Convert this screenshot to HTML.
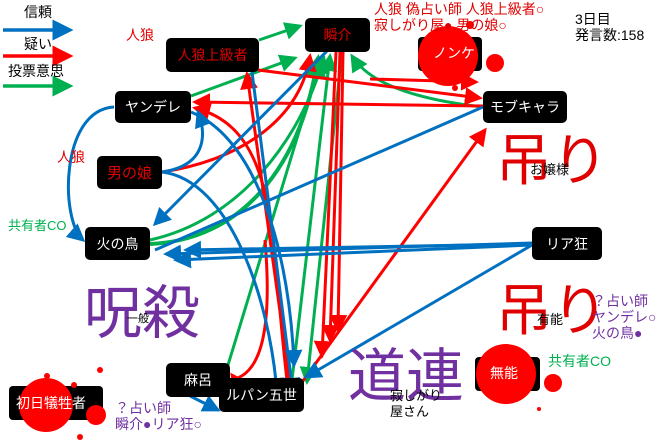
<!DOCTYPE html>
<html><head><meta charset="utf-8"><style>
body{margin:0;width:660px;height:446px;background:#fff;position:relative;overflow:hidden;font-family:"Liberation Sans","Noto Sans CJK JP",sans-serif}
.n{position:absolute;background:#000;border-radius:5px;color:#fff;font-size:14px;display:flex;align-items:center;justify-content:center}
.r{color:#e00000}
.t{position:absolute;white-space:nowrap;line-height:1.15}
svg{position:absolute;left:0;top:0}
</style></head><body>
<svg width="660" height="446">
<defs>
<marker id="b" markerWidth="6" markerHeight="6" refX="5" refY="3" orient="auto" markerUnits="strokeWidth"><path d="M0,0L6,3L0,6z" fill="#0070C0"/></marker>
<marker id="r" markerWidth="6" markerHeight="6" refX="5" refY="3" orient="auto" markerUnits="strokeWidth"><path d="M0,0L6,3L0,6z" fill="#f00"/></marker>
<marker id="g" markerWidth="6" markerHeight="6" refX="5" refY="3" orient="auto" markerUnits="strokeWidth"><path d="M0,0L6,3L0,6z" fill="#00B050"/></marker>
</defs>
<g fill="none" stroke-width="3">
<line x1="3" y1="30" x2="70" y2="30" stroke="#0070C0" stroke-width="3.5" marker-end="url(#b)"/>
<line x1="3" y1="56" x2="70" y2="56" stroke="#f00" stroke-width="3.5" marker-end="url(#r)"/>
<line x1="3" y1="86" x2="70" y2="86" stroke="#00B050" stroke-width="3.5" marker-end="url(#g)"/>
<!-- green -->
<line x1="259" y1="40" x2="300" y2="26" stroke="#00B050" marker-end="url(#g)"/>
<line x1="191" y1="96" x2="295" y2="58" stroke="#00B050" marker-end="url(#g)"/>
<path d="M150,244 C240,240 300,170 318,58" stroke="#00B050" stroke-width="4" marker-end="url(#g)"/>
<path d="M150,240 C240,220 300,140 324,58" stroke="#00B050" marker-end="url(#g)"/>
<line x1="228" y1="365" x2="322" y2="56" stroke="#00B050" marker-end="url(#g)"/>
<line x1="292" y1="380" x2="330" y2="56" stroke="#00B050" marker-end="url(#g)"/>
<path d="M483,107 C420,100 370,85 352,56" stroke="#00B050" marker-end="url(#g)"/>
<line x1="342" y1="52" x2="307" y2="382" stroke="#00B050" marker-end="url(#g)"/>
<!-- red -->
<line x1="258" y1="70" x2="480" y2="98" stroke="#f00" marker-end="url(#r)"/>
<line x1="370" y1="79" x2="476" y2="82" stroke="#f00" marker-end="url(#r)"/>
<line x1="483" y1="106" x2="195" y2="102" stroke="#f00" marker-end="url(#r)"/>
<path d="M162,172 C240,160 300,120 310,56" stroke="#f00" marker-end="url(#r)"/>
<line x1="292" y1="398" x2="247" y2="74" stroke="#f00" marker-end="url(#r)"/>
<path d="M287,380 C270,240 280,130 195,108" stroke="#f00" marker-end="url(#r)"/>
<path d="M230,380 C270,375 270,300 265,240" stroke="#f00"/>
<line x1="250" y1="400" x2="232" y2="375" stroke="#f00" marker-end="url(#r)"/>
<line x1="300" y1="385" x2="485" y2="130" stroke="#f00" marker-end="url(#r)"/>
<line x1="336" y1="52" x2="322" y2="356" stroke="#f00" marker-end="url(#r)"/>
<line x1="340" y1="52" x2="330" y2="340" stroke="#f00" marker-end="url(#r)"/>
<line x1="343" y1="52" x2="338" y2="330" stroke="#f00" marker-end="url(#r)"/>
<!-- blue -->
<path d="M114,107 C60,110 60,220 83,240" stroke="#0070C0" marker-end="url(#b)"/>
<path d="M162,172 C210,165 205,130 198,112" stroke="#0070C0" marker-end="url(#b)"/>
<path d="M162,172 C230,180 270,300 277,393" stroke="#0070C0" marker-end="url(#b)"/>
<line x1="328" y1="50" x2="155" y2="224" stroke="#0070C0" marker-end="url(#b)"/>
<line x1="483" y1="107" x2="155" y2="250" stroke="#0070C0"/>
<line x1="532" y1="243" x2="166" y2="254" stroke="#0070C0" marker-end="url(#b)"/>
<line x1="532" y1="244" x2="186" y2="250" stroke="#0070C0" marker-end="url(#b)"/>
<line x1="532" y1="245" x2="176" y2="260" stroke="#0070C0" marker-end="url(#b)"/>
<line x1="532" y1="245" x2="306" y2="377" stroke="#0070C0" marker-end="url(#b)"/>
<line x1="252" y1="72" x2="293" y2="393" stroke="#0070C0" marker-end="url(#b)"/>
<path d="M191,112 C260,140 290,260 294,365" stroke="#0070C0" marker-end="url(#b)"/>
<line x1="190" y1="396" x2="218" y2="410" stroke="#0070C0" marker-end="url(#b)"/>
</g>
<!-- splats -->
<g fill="#f00">
<rect x="418" y="37" width="64" height="34" rx="4" fill="#000"/>
<circle cx="448" cy="56" r="30"/><circle cx="495" cy="63" r="9"/><circle cx="470" cy="25" r="4"/><circle cx="455" cy="88" r="3"/>
<rect x="9" y="386" width="94" height="34" rx="4" fill="#000"/>
<circle cx="46" cy="405" r="27"/><circle cx="96" cy="415" r="10"/><circle cx="47" cy="376" r="3"/><circle cx="74" cy="385" r="3"/><circle cx="100" cy="370" r="3"/><circle cx="80" cy="437" r="3"/>
<rect x="475" y="357" width="65" height="34" rx="4" fill="#000"/>
<circle cx="506" cy="374" r="30"/><circle cx="553" cy="383" r="9"/><circle cx="539" cy="409" r="2"/>
</g>
</svg>
<div class="t" style="left:24px;top:4px;font-size:14px">信頼</div>
<div class="t" style="left:24px;top:36px;font-size:14px">疑い</div>
<div class="t" style="left:8px;top:63px;font-size:14px">投票意思</div>
<div class="t r" style="left:126px;top:27px;font-size:14px">人狼</div>
<div class="t r" style="left:57px;top:149px;font-size:14px">人狼</div>
<div class="t" style="left:8px;top:219px;font-size:13px;color:#00B050">共有者CO</div>
<div class="t r" style="left:374px;top:1px;font-size:14px">人狼 偽占い師 人狼上級者○<br>寂しがり屋● 男の娘○</div>
<div class="t" style="left:575px;top:11px;font-size:14px">3日目<br>発言数:158</div>
<div class="n r" style="left:166px;top:38px;width:93px;height:34px">人狼上級者</div>
<div class="n r" style="left:305px;top:18px;width:65px;height:34px">瞬介</div>
<div class="n" style="left:115px;top:91px;width:76px;height:32px">ヤンデレ</div>
<div class="n r" style="left:97px;top:156px;width:65px;height:33px;font-size:15px">男の娘</div>
<div class="n" style="left:483px;top:91px;width:84px;height:32px">モブキャラ</div>
<div class="n" style="left:85px;top:227px;width:65px;height:33px">火の鳥</div>
<div class="n" style="left:532px;top:227px;width:70px;height:33px">リア狂</div>
<div class="n" style="left:166px;top:363px;width:64px;height:34px">麻呂</div>
<div class="n" style="left:219px;top:378px;width:85px;height:34px">ルパン五世</div>
<div class="t" style="left:433px;top:45px;font-size:14px;color:#fff">ノンケ</div>
<div class="t" style="left:16px;top:395px;font-size:14px;color:#fff">初日犠牲者</div>
<div class="t" style="left:490px;top:365px;font-size:14px;color:#fff">無能</div>
<div class="t r" style="left:496px;top:133px;font-size:56px;line-height:1">吊り</div>
<div class="t" style="left:530px;top:163px;font-size:13px">お嬢様</div>
<div class="t" style="left:84px;top:285px;font-size:58px;line-height:1;color:#7030A0">呪殺</div>
<div class="t" style="left:127px;top:313px;font-size:11px">一般</div>
<div class="t r" style="left:496px;top:283px;font-size:56px;line-height:1">吊り</div>
<div class="t" style="left:537px;top:313px;font-size:13px">有能</div>
<div class="t" style="left:592px;top:293px;font-size:14px;color:#7030A0">？占い師<br>ヤンデレ○<br>火の鳥●</div>
<div class="t" style="left:548px;top:353px;font-size:14px;color:#00B050">共有者CO</div>
<div class="t" style="left:348px;top:348px;font-size:58px;line-height:1;color:#7030A0">道連</div>
<div class="t" style="left:390px;top:388px;font-size:13px;line-height:1.2">寂しがり<br>屋さん</div>
<div class="t" style="left:115px;top:400px;font-size:14px;color:#7030A0">？占い師<br>瞬介●リア狂○</div>
</body></html>
